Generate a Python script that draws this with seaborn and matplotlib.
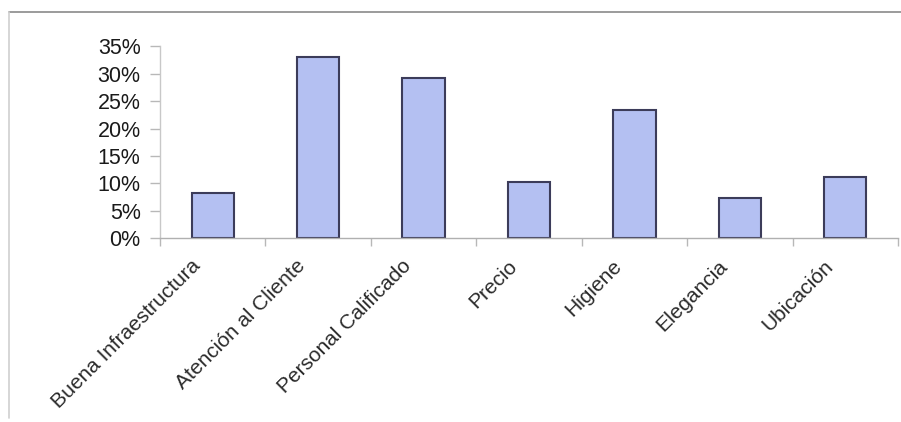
import matplotlib
matplotlib.use("Agg")
import matplotlib.pyplot as plt
import matplotlib.transforms as mtransforms
from matplotlib.lines import Line2D
from matplotlib.ticker import PercentFormatter
import seaborn as sns
import pandas as pd

# Datos del gráfico
categorias = ["Buena Infraestructura", "Atención al Cliente", "Personal Calificado",
              "Precio", "Higiene", "Elegancia", "Ubicación"]
porcentajes = [0.082, 0.330, 0.292, 0.102, 0.233, 0.073, 0.111]
marcas_y = [0.00, 0.05, 0.10, 0.15, 0.20, 0.25, 0.30, 0.35]

sns.set_theme(style="white")
plt.rcParams["font.family"] = ["Liberation Sans", "DejaVu Sans"]

W, H = 901, 422
fig = plt.figure(figsize=(W / 100, H / 100), dpi=100)
fig.patch.set_facecolor("white")

# Área de trazado
ax = fig.add_axes([160 / W, (H - 238.3) / H, 738 / W, (238.3 - 46.2) / H])

df = pd.DataFrame({"categoria": categorias, "porcentaje": porcentajes})
sns.barplot(data=df, x="categoria", y="porcentaje", color="#b4c0f2",
            saturation=1, width=0.4, edgecolor="#3c3c5a", linewidth=1.5, ax=ax)

ax.set_xlim(-0.5, len(categorias) - 0.5)
ax.set_ylim(0, 0.35)
ax.set_xlabel("")
ax.set_ylabel("")

# Eje Y en porcentajes
ax.set_yticks(marcas_y)
ax.yaxis.set_major_formatter(PercentFormatter(1.0, decimals=0))
ax.tick_params(axis="y", left=True, length=7, width=1, color="#b8b8b8",
               labelsize=15.5, labelcolor="#1a1a1a", pad=7)

# Eje X: etiquetas en el centro, marcas entre categorías
ax.set_xticks(range(len(categorias)))
ax.set_xticklabels(categorias)
ax.set_xticks([i - 0.5 for i in range(len(categorias) + 1)], minor=True)
ax.tick_params(axis="x", which="major", length=0, labelsize=15,
               labelcolor="#2a2a2a", pad=13)
ax.tick_params(axis="x", which="minor", bottom=True, length=6, width=1,
               color="#b8b8b8")

desplazamiento = mtransforms.ScaledTranslation(-0.22, 0, fig.dpi_scale_trans)
for etiqueta in ax.get_xticklabels():
    etiqueta.set_rotation(45)
    etiqueta.set_ha("right")
    etiqueta.set_va("top")
    etiqueta.set_rotation_mode("anchor")
    etiqueta.set_transform(etiqueta.get_transform() + desplazamiento)

for lado in ["top", "right"]:
    ax.spines[lado].set_visible(False)
ax.spines["left"].set_color("#c8c8c8")
ax.spines["bottom"].set_color("#b0b0b0")
ax.spines["left"].set_linewidth(1)
ax.spines["bottom"].set_linewidth(1)

# Marco exterior del gráfico
fig.add_artist(Line2D([9 / W, 1.0], [1 - 12 / H, 1 - 12 / H],
                      transform=fig.transFigure, color="#8a8a8a", linewidth=1.2))
fig.add_artist(Line2D([9 / W, 9 / W], [1 - 12 / H, 1 - 418 / H],
                      transform=fig.transFigure, color="#cfcfcf", linewidth=1.2))

fig.savefig("out.png", dpi=100, facecolor="white")
